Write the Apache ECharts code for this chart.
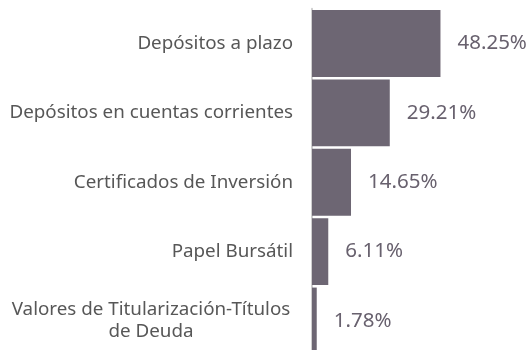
<!DOCTYPE html>
<html>
<head>
<meta charset="utf-8">
<script src="https://cdn.jsdelivr.net/npm/echarts@6/dist/echarts.min.js"></script>
<style>
  html, body { margin: 0; padding: 0; background: #fff; }
  #chart { width: 528px; height: 350px; }
</style>
</head>
<body>
<div id="chart"></div>
<script>
// Portfolio composition by instrument (share of total, %)
const categories = [
  'Depósitos a plazo',
  'Depósitos en cuentas corrientes',
  'Certificados de Inversión',
  'Papel Bursátil',
  'Valores de Titularización-Títulos\nde Deuda'
];
const shares = [48.25, 29.21, 14.65, 6.11, 1.78];

const chart = echarts.init(document.getElementById('chart'));
chart.setOption({
  animation: false,
  grid: { left: 312, right: 3, top: 8.8, bottom: -5.7, containLabel: false, outerBoundsMode: 'none' },
  xAxis: {
    type: 'value',
    min: 0,
    max: 80,
    show: false
  },
  yAxis: {
    type: 'category',
    inverse: true,
    data: categories,
    offset: 1,
    axisLine: { show: true, lineStyle: { color: '#cfcfcf', width: 2 } },
    axisTick: { show: false },
    axisLabel: {
      margin: 18,
      color: '#575757',
      fontFamily: 'Noto Sans',
      fontSize: 18.8,
      lineHeight: 22,
      formatter: function (v) {
        if (v.indexOf('\n') < 0) return v;
        return v.split('\n').map(function (s) { return '{c|' + s + '}'; }).join('\n');
      },
      rich: {
        c: { width: 284, align: 'center', color: '#575757', fontFamily: 'Noto Sans', fontSize: 18.8, lineHeight: 22 }
      }
    }
  },
  series: [{
    type: 'bar',
    data: shares,
    barCategoryGap: '3.6%',
    itemStyle: { color: '#6d6673' },
    label: {
      show: true,
      position: 'right',
      distance: 17,
      color: '#68616e',
      fontFamily: 'Noto Sans',
      fontSize: 20.5,
      formatter: function (p) { return p.value.toFixed(2) + '%'; }
    }
  }]
});
</script>
</body>
</html>
